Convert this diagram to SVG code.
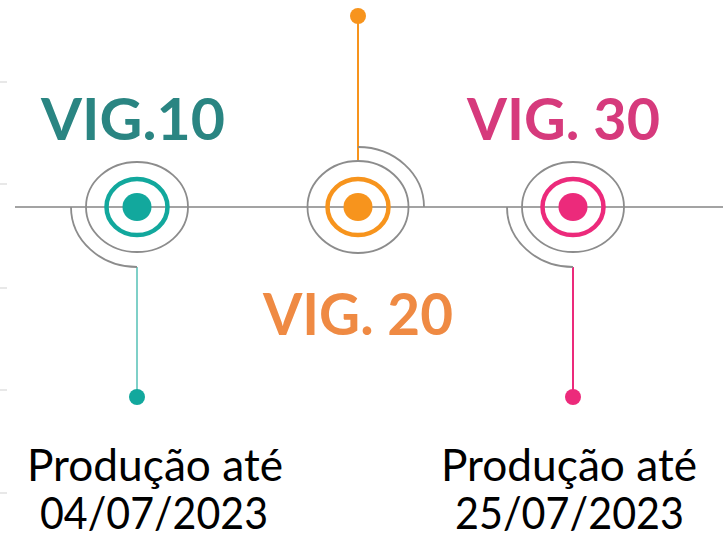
<svg xmlns="http://www.w3.org/2000/svg" width="723" height="538" viewBox="0 0 723 538">
<style>
.tick{stroke:#d9d9d9;stroke-width:1.2}
.axis{stroke:#a3a3a3;stroke-width:2;fill:none}
.gray{stroke:#8c8c8c;stroke-width:1.8;fill:none}
.ring{stroke-width:4.5;fill:none}
.vig{font-family:Lato,"Open Sans",sans-serif;font-weight:bold;font-size:58px}
.lbl{font-family:Lato,"Liberation Sans",sans-serif;font-size:44px;fill:#000}
</style>
<rect width="723" height="538" fill="#fff"/>
<g id="ticks">
<line class="tick" x1="0" y1="82" x2="7" y2="82"/>
<line class="tick" x1="0" y1="184" x2="7" y2="184"/>
<line class="tick" x1="0" y1="288" x2="7" y2="288"/>
<line class="tick" x1="0" y1="390" x2="7" y2="390"/>
<line class="tick" x1="0" y1="493" x2="7" y2="493"/>
</g>
<g id="connectors">
<line class="axis" x1="15" y1="207" x2="723" y2="207"/>
<line x1="137" y1="267" x2="137" y2="397" stroke="#7fd0c8" stroke-width="2"/>
<line x1="358" y1="16" x2="358" y2="162" stroke="#f7941d" stroke-width="2"/>
<line x1="573" y1="267" x2="573" y2="397" stroke="#ec2a7b" stroke-width="2"/>
</g>
<g id="vig10">
<ellipse class="gray" cx="137" cy="207" rx="51" ry="45"/>
<path class="gray" d="M71,207 A66,60 0 0 0 137,267"/>
<ellipse class="ring" cx="137" cy="207" rx="30.5" ry="28" stroke="#12a89d"/>
<ellipse cx="137" cy="207" rx="14.5" ry="14" fill="#12a89d"/>
<circle cx="137" cy="397" r="8" fill="#12a89d"/>
<text class="vig" x="41" y="140" fill="#2a8582" textLength="184" lengthAdjust="spacingAndGlyphs">VIG.10</text>
<text class="lbl" x="27" y="481" textLength="256" lengthAdjust="spacingAndGlyphs">Produção até</text>
<text class="lbl" x="40" y="529" textLength="228" lengthAdjust="spacingAndGlyphs">04/07/2023</text>
</g>
<g id="vig20">
<ellipse class="gray" cx="358" cy="207" rx="50.5" ry="46"/>
<path class="gray" d="M358,147 A66,60 0 0 1 424,207"/>
<ellipse class="ring" cx="358" cy="207" rx="30.5" ry="28" stroke="#f7941d"/>
<ellipse cx="358" cy="207" rx="14.5" ry="14" fill="#f7941d"/>
<circle cx="358" cy="16" r="8" fill="#f7941d"/>
<text class="vig" x="263" y="335" fill="#ef8a43" textLength="190" lengthAdjust="spacingAndGlyphs">VIG. 20</text>
</g>
<g id="vig30">
<ellipse class="gray" cx="573" cy="207" rx="51" ry="45"/>
<path class="gray" d="M507,207 A66,60 0 0 0 573,267"/>
<ellipse class="ring" cx="573" cy="207" rx="30.5" ry="28" stroke="#ec2a7b"/>
<ellipse cx="573" cy="207" rx="14.5" ry="14" fill="#ec2a7b"/>
<circle cx="573" cy="397" r="8" fill="#ec2a7b"/>
<text class="vig" x="467" y="140" fill="#d63a7c" textLength="193" lengthAdjust="spacingAndGlyphs">VIG. 30</text>
<text class="lbl" x="441" y="481" textLength="256" lengthAdjust="spacingAndGlyphs">Produção até</text>
<text class="lbl" x="455" y="529" textLength="229" lengthAdjust="spacingAndGlyphs">25/07/2023</text>
</g>
</svg>
